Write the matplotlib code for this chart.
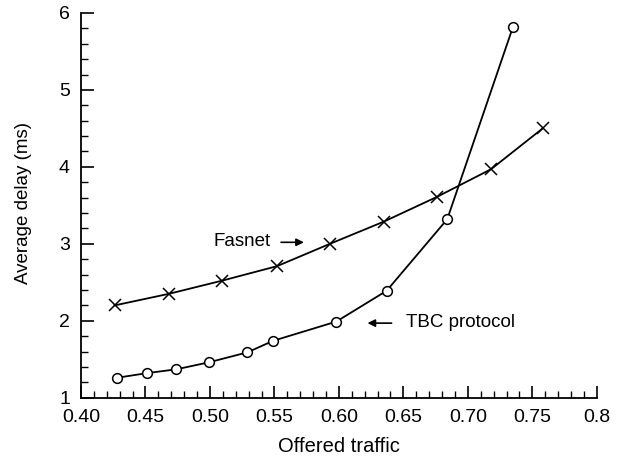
import matplotlib.pyplot as plt
from matplotlib.ticker import MultipleLocator

plt.rcParams['font.family'] = ['Liberation Sans', 'DejaVu Sans']

# Fasnet curve (x markers)
fasnet_x = [0.426, 0.468, 0.509, 0.552, 0.593, 0.635, 0.676, 0.718, 0.758]
fasnet_y = [2.20, 2.35, 2.52, 2.71, 3.00, 3.29, 3.61, 3.97, 4.50]

# TBC protocol curve (circles)
tbc_x = [0.428, 0.451, 0.474, 0.499, 0.529, 0.549, 0.598, 0.637, 0.684, 0.735]
tbc_y = [1.26, 1.32, 1.37, 1.46, 1.59, 1.74, 1.99, 2.39, 3.32, 5.82]

x_ticks = [0.40, 0.45, 0.50, 0.55, 0.60, 0.65, 0.70, 0.75, 0.80]
x_labels = ["0.40", "0.45", "0.50", "0.55", "0.60", "0.65", "0.70", "0.75", "0.8"]
y_ticks = [1, 2, 3, 4, 5, 6]

fig = plt.figure(figsize=(6.23, 4.62), dpi=100)
ax = fig.add_axes([0.130, 0.139, 0.828, 0.833])

ax.plot(fasnet_x, fasnet_y, color="black", lw=1.3, marker="x", ms=8, mew=1.1)
ax.plot(tbc_x, tbc_y, color="black", lw=1.3, marker="o", ms=7, mfc="white", mew=1.1)

ax.set_xlim(0.40, 0.80)
ax.set_ylim(1, 6)
ax.spines["top"].set_visible(False)
ax.spines["right"].set_visible(False)
ax.spines["left"].set_linewidth(1.3)
ax.spines["bottom"].set_linewidth(1.3)

ax.set_xticks(x_ticks)
ax.set_xticklabels(x_labels)
ax.set_yticks(y_ticks)
ax.xaxis.set_minor_locator(MultipleLocator(0.01))
ax.yaxis.set_minor_locator(MultipleLocator(0.2))
ax.tick_params(which="major", direction="in", length=9, width=1.2, labelsize=14, pad=8)
ax.tick_params(which="minor", direction="in", length=5, width=1.0)

ax.set_xlabel("Offered traffic", fontsize=14.5, labelpad=8)
ax.set_ylabel("Average delay (ms)", fontsize=13.5)
ax.yaxis.set_label_coords(-0.095, 0.505)

# annotations
ax.text(0.503, 3.03, "Fasnet", fontsize=13.5, va="center", ha="left")
ax.annotate("", xy=(0.575, 3.02), xytext=(0.553, 3.02),
            arrowprops=dict(arrowstyle="-|>", color="black", lw=1.2, mutation_scale=11))
ax.annotate("", xy=(0.620, 1.97), xytext=(0.643, 1.97),
            arrowprops=dict(arrowstyle="-|>", color="black", lw=1.2, mutation_scale=11))
ax.text(0.652, 1.98, "TBC protocol", fontsize=13.5, va="center", ha="left")

fig.savefig("out.png", dpi=100)
